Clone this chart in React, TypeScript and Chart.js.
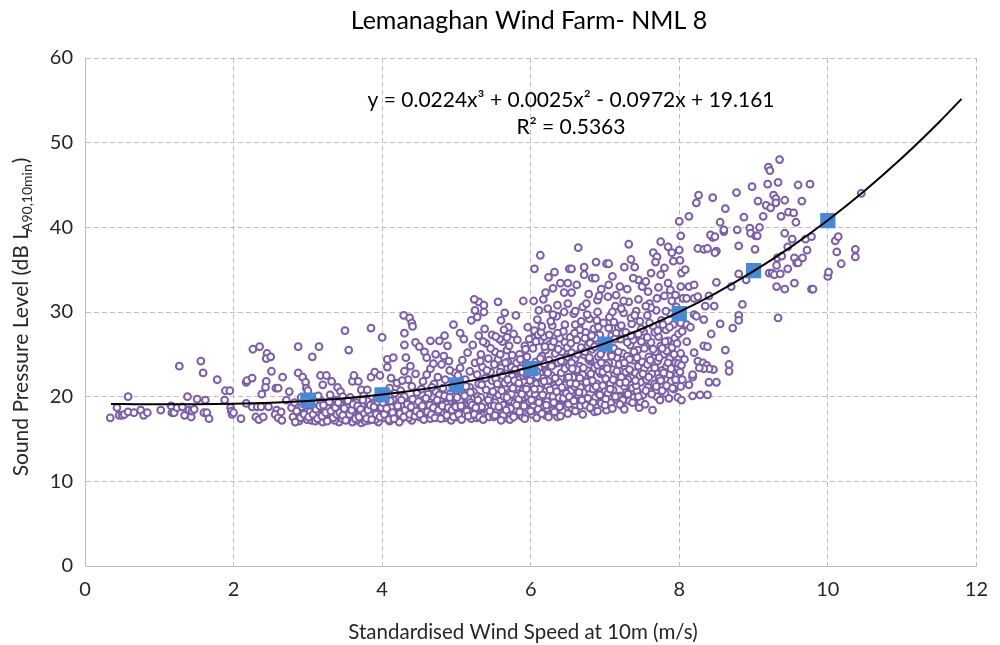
import React, { useEffect, useRef } from "react";
import { Chart, registerables } from "chart.js";

Chart.register(...registerables);

const chartTitle = "Lemanaghan Wind Farm- NML 8";
const xAxisTitle = "Standardised Wind Speed at 10m (m/s)";
const yAxisTitleMain = "Sound Pressure Level (dB L";
const yAxisTitleSub = "A90,10min";
const yAxisTitleEnd = ")";
const equationText = "y = 0.0224x³ + 0.0025x² - 0.0972x + 19.161";
const rSquaredText = "R² = 0.5363";

const xTickValues = [0, 2, 4, 6, 8, 10, 12];
const yTickValues = [0, 10, 20, 30, 40, 50, 60];

// Bin-averaged levels (blue squares)
const binSpeeds = [3, 4, 5, 6, 7, 8, 9, 10];
const binLevels = [19.6, 20.2, 21.4, 23.3, 26.2, 29.8, 34.9, 40.8];

// Trend line
const trendSpeeds = [0.35, 0.5, 1, 1.5, 2, 2.5, 3, 3.5, 4, 4.5, 5, 5.5, 6, 6.5, 7, 7.5, 8, 8.5, 9, 9.5, 10, 10.5, 11, 11.5, 11.8];
const trendLevels = [19.13, 19.12, 19.09, 19.1, 19.16, 19.28, 19.5, 19.81, 20.25, 20.82, 21.54, 22.43, 23.51, 24.79, 26.29, 28.02, 30.01, 32.27, 34.82, 37.67, 40.84, 44.35, 48.21, 52.44, 55.17];

// Measured 10-minute points [wind speed, level]
const lowWindPoints: number[][] = [
  [0.34,17.5],[0.43,18.7],[0.46,17.8],[0.5,17.8],[0.53,17.9],[0.58,20.0],[0.58,18.2],[0.66,18.1],[0.75,18.4],[0.79,17.8],[0.84,18.1],
  [1.02,18.4],[1.16,18.9],[1.17,18.1],[1.2,18.1],[1.24,18.7],[1.27,23.6],[1.31,18.8],[1.34,17.8],[1.38,20.0],[1.4,18.4],[1.43,17.6],
  [1.44,18.3],[1.47,18.5],[1.51,19.7],[1.56,24.2],[1.59,22.8],[1.6,18.1],[1.64,18.1],[1.62,19.6],[1.67,17.4],[1.78,22.0],[1.88,19.6],
  [1.89,20.7],[1.95,20.7],[1.96,18.7],[1.97,18.3],[1.98,17.9],[2.0,18.1],
  [2.1,17.4],[2.17,21.7],[2.18,21.9],[2.17,19.2],[2.25,22.2],[2.26,25.6],[2.35,25.9],[2.45,25.1],[2.44,24.5],[2.5,24.7],[2.51,23.0],
  [2.44,21.8],[2.43,21.1],[2.57,21.0],[2.6,21.0],[2.38,20.3],[2.66,22.3],[2.25,18.8],[2.32,18.8],[2.37,18.8],[2.47,18.8],[2.3,17.6],
  [2.34,17.3],[2.4,17.6],[2.58,18.4],[2.56,17.9],[2.6,17.5],[2.64,18.2],[2.65,17.2],[2.71,19.6],[2.75,20.6],[2.78,18.7],[2.87,25.9],
  [2.87,22.8],[2.93,22.3],[2.97,21.7],[2.98,21.0],[3.0,20.7],[2.8,17.6],[2.85,18.3],[2.88,17.1],[2.9,17.5],[2.95,17.9],[2.92,18.8],
  [2.82,19.3],[2.97,19.0],[2.83,17.0],[2.91,19.9],[2.99,17.3],
];

const midWindPoints: number[][] = [
  [3.06,24.7],[3.15,25.9],[3.05,17.2],[3.1,17.1],[3.15,17.3],[3.2,17.0],[3.25,17.4],[3.3,17.6],[3.12,18.1],[3.22,18.3],[3.28,18.6],
  [3.33,19.2],[3.35,18.0],[3.4,17.4],[3.42,17.0],[3.45,18.4],[3.48,19.0],[3.5,17.7],[3.38,19.6],[3.3,20.2],[3.17,22.5],[3.25,22.5],
  [3.2,21.4],[3.4,21.1],[3.44,20.6],[3.5,27.8],[3.08,18.7],[3.18,19.5],[3.36,17.2],[3.27,18.0],[3.03,18.2],[3.46,17.4],[3.14,20.1],
  [3.32,21.8],[3.47,20.0],
  [3.55,25.5],[3.52,18.9],[3.55,18.3],[3.58,17.5],[3.6,17.0],[3.63,18.6],[3.65,19.3],[3.68,17.8],[3.7,18.2],[3.72,16.9],[3.75,17.5],
  [3.78,18.8],[3.8,19.5],[3.82,17.2],[3.85,18.0],[3.88,17.6],[3.9,18.5],[3.93,19.8],[3.95,17.0],[3.98,18.3],[3.6,21.8],[3.68,21.8],
  [3.72,20.8],[3.8,20.8],[3.85,22.3],[3.9,22.9],[3.97,22.5],[3.85,28.1],[3.75,20.1],[3.62,22.5],[3.57,19.9],[3.66,17.2],[3.73,19.1],
  [3.87,19.2],[3.94,18.0],[3.77,17.1],[3.53,17.3],[3.83,17.9],[3.96,19.3],[3.91,17.3],
  [4.0,27.0],[4.02,17.5],[4.05,18.2],[4.08,19.0],[4.1,17.1],[4.12,18.7],[4.15,19.6],[4.18,17.6],[4.2,18.3],[4.22,19.2],[4.25,17.3],
  [4.28,18.9],[4.3,20.0],[4.32,17.8],[4.35,18.6],[4.38,19.4],[4.4,17.2],[4.42,18.1],[4.45,19.8],[4.48,18.5],[4.07,23.5],[4.07,24.4],
  [4.15,24.6],[4.32,24.6],[4.29,29.6],[4.37,29.3],[4.4,28.7],[4.41,28.3],[4.3,27.5],[4.3,26.1],[4.45,26.4],[4.5,25.9],[4.57,25.3],
  [4.1,21.0],[4.2,21.6],[4.25,20.7],[4.35,22.0],[4.4,21.2],[4.45,22.7],[4.12,22.2],[4.3,23.0],[4.47,20.5],[4.04,20.2],[4.17,20.4],
  [4.23,17.0],[4.36,17.5],[4.43,19.0],[4.27,21.9],[4.38,23.6],[4.19,18.0],
  [4.5,17.6],[4.52,18.6],[4.55,19.6],[4.58,17.9],[4.6,18.9],[4.62,20.3],[4.65,17.4],[4.68,18.4],[4.7,19.2],[4.72,20.6],[4.75,17.8],
  [4.78,18.8],[4.8,19.8],[4.82,21.0],[4.85,17.5],[4.88,18.3],[4.9,19.4],[4.92,20.4],[4.95,18.0],[4.98,19.0],[4.55,21.8],[4.6,22.6],
  [4.65,23.3],[4.7,21.5],[4.75,22.3],[4.8,23.8],[4.85,22.0],[4.9,24.2],[4.95,21.3],[4.98,22.8],[4.65,26.6],[4.77,26.6],[4.96,28.5],
  [4.6,24.6],[4.72,25.0],[4.88,26.0],[4.83,24.8],[4.67,21.1],[4.53,20.9],[4.63,19.4],[4.73,18.1],[4.86,19.1],[4.93,17.2],[4.57,18.2],
  [4.77,20.2],[4.97,20.0],[4.69,23.9],[4.84,27.2],[4.91,23.1],
  [5.0,17.6],[5.02,18.5],[5.05,19.5],[5.08,20.4],[5.1,17.9],[5.12,18.9],[5.15,19.8],[5.18,21.1],[5.2,17.4],[5.22,18.2],[5.25,19.1],
  [5.28,20.1],[5.3,21.5],[5.32,18.6],[5.35,17.8],[5.38,19.4],[5.4,20.8],[5.42,18.1],[5.45,19.9],[5.48,21.9],[5.02,22.5],[5.05,23.4],
  [5.08,24.3],[5.12,22.0],[5.15,25.2],[5.18,23.0],[5.22,26.1],[5.25,24.0],[5.28,22.6],[5.3,27.2],[5.33,25.0],[5.35,23.5],[5.38,28.0],
  [5.4,26.3],[5.43,24.5],[5.46,22.9],[5.2,29.0],[5.25,30.2],[5.28,29.4],[5.3,31.2],[5.24,31.5],[5.1,26.8],[5.05,27.5],[5.37,30.0],
  [5.37,30.8],[5.48,27.3],[5.04,20.9],[5.13,21.2],[5.23,20.6],[5.33,19.9],[5.44,17.6],[5.17,18.4],[5.27,17.5],[5.39,22.2],[5.47,19.0],
  [5.09,18.7],[5.19,19.3],[5.34,18.8],
  [5.5,17.6],[5.52,19.3],[5.53,22.1],[5.55,18.4],[5.56,24.4],[5.57,20.2],[5.58,21.0],[5.6,23.4],[5.61,18.0],[5.62,26.5],[5.63,19.0],
  [5.64,20.0],[5.65,21.6],[5.66,17.5],[5.67,22.7],[5.68,25.5],[5.7,18.7],[5.71,19.6],[5.72,20.5],[5.73,21.4],[5.74,23.5],[5.75,22.4],
  [5.76,18.2],[5.77,27.4],[5.78,19.2],[5.8,20.1],[5.81,24.0],[5.82,21.1],[5.83,22.0],[5.84,23.0],[5.85,25.0],[5.86,17.8],[5.87,18.8],
  [5.88,19.8],[5.9,20.8],[5.91,21.7],[5.92,26.0],[5.93,22.7],[5.94,23.7],[5.95,24.7],[5.96,28.2],[5.97,18.4],[5.98,19.4],[5.99,20.4],
  [5.56,31.2],[5.6,29.0],[5.7,28.2],[5.9,31.3],[5.8,29.6],[5.52,25.3],[5.58,26.8],[5.68,27.0],[5.65,29.9],[5.54,20.9],[5.63,17.8],
  [5.72,17.3],[5.79,18.5],[5.89,17.6],[5.59,22.9],[5.69,24.1],[5.78,21.9],[5.86,23.3],[5.95,21.2],[5.51,18.9],[5.84,19.7],[5.74,20.3],
];

const highWindPoints: number[][] = [
  [6.01,22.6],[6.02,17.9],[6.03,25.7],[6.04,19.0],[6.05,27.8],[6.06,20.3],[6.07,24.1],[6.08,21.5],[6.09,29.1],[6.1,18.5],[6.11,23.4],
  [6.12,19.8],[6.13,26.6],[6.14,21.0],[6.15,24.8],[6.16,22.2],[6.17,18.1],[6.18,27.1],[6.19,20.6],[6.2,25.5],[6.21,23.0],[6.22,19.4],
  [6.23,30.4],[6.24,21.9],[6.25,24.3],[6.26,26.2],[6.27,18.8],[6.28,22.5],[6.29,28.4],[6.3,20.0],[6.31,23.8],[6.32,21.3],[6.33,25.1],
  [6.34,19.2],[6.35,29.5],[6.36,17.6],[6.37,24.0],[6.38,21.7],[6.39,26.9],[6.4,20.4],[6.41,22.8],[6.42,25.3],[6.43,18.3],[6.44,27.7],
  [6.45,20.9],[6.46,23.3],[6.47,19.6],[6.48,24.6],[6.49,22.1],[6.5,31.0],[6.06,19.5],[6.12,20.9],[6.18,23.9],[6.22,18.6],[6.28,25.9],
  [6.33,21.0],[6.38,19.9],[6.44,24.1],[6.08,23.0],[6.15,21.6],[6.36,27.5],[6.27,28.9],[6.11,30.2],[6.46,26.4],[6.02,26.9],[6.4,18.9],
  [6.2,17.8],[6.31,19.3],[6.47,21.4],[6.1,27.3],[6.05,35.1],[6.13,36.7],[6.04,31.3],[6.24,34.1],[6.32,34.7],[6.2,32.3],[6.3,32.8],
  [6.4,33.4],[6.45,32.3],[6.17,31.5],[6.36,30.8],
  [6.51,19.1],[6.52,23.7],[6.53,27.0],[6.54,20.7],[6.55,25.2],[6.56,18.4],[6.57,22.3],[6.58,29.8],[6.59,21.2],[6.6,24.5],[6.61,19.8],
  [6.62,26.7],[6.63,22.9],[6.64,20.2],[6.65,28.3],[6.66,23.6],[6.67,18.9],[6.68,25.8],[6.69,21.8],[6.7,30.6],[6.71,20.5],[6.72,24.9],
  [6.73,22.4],[6.74,27.6],[6.75,19.4],[6.76,23.1],[6.77,26.0],[6.78,21.0],[6.79,29.2],[6.8,24.2],[6.81,18.6],[6.82,22.0],[6.83,25.6],
  [6.84,20.9],[6.85,28.0],[6.86,23.4],[6.87,19.9],[6.88,26.5],[6.89,21.5],[6.9,31.4],[6.91,24.7],[6.92,20.3],[6.93,27.3],[6.94,22.7],
  [6.95,19.2],[6.96,25.4],[6.97,21.3],[6.98,28.7],[6.99,23.9],[7.0,20.6],[6.53,21.6],[6.57,19.6],[6.62,23.2],[6.66,27.9],[6.7,22.6],
  [6.74,19.0],[6.78,24.4],[6.83,21.9],[6.87,26.9],[6.92,23.0],[6.96,20.0],[6.6,30.1],[6.76,29.7],[6.89,29.0],[6.55,24.0],[6.8,26.3],
  [6.94,25.0],[6.67,21.1],[6.73,25.3],[6.86,18.2],[6.64,37.6],[6.52,35.1],[6.55,35.1],[6.88,35.9],[6.72,34.4],[6.72,35.3],[6.83,34.0],
  [6.87,34.0],[6.55,32.3],[6.95,32.7],[6.62,33.2],[6.78,32.1],[6.5,33.4],[6.92,31.9],
  [7.01,22.1],[7.02,18.4],[7.03,26.3],[7.04,20.4],[7.05,24.0],[7.06,29.4],[7.07,21.5],[7.08,19.3],[7.09,27.2],[7.1,23.2],[7.11,20.8],
  [7.12,25.7],[7.13,22.6],[7.14,30.7],[7.15,19.7],[7.16,24.6],[7.17,21.8],[7.18,28.1],[7.19,23.8],[7.2,20.1],[7.21,26.8],[7.22,22.3],
  [7.23,18.9],[7.24,25.1],[7.25,29.9],[7.26,21.2],[7.27,23.5],[7.28,27.6],[7.29,20.5],[7.3,24.8],[7.31,22.0],[7.32,31.2],[7.33,19.5],
  [7.34,26.1],[7.35,23.0],[7.36,28.6],[7.37,21.0],[7.38,24.3],[7.39,19.9],[7.4,27.0],[7.41,22.8],[7.42,30.1],[7.43,20.7],[7.44,25.5],
  [7.45,23.6],[7.46,18.7],[7.47,28.9],[7.48,21.7],[7.49,26.5],[7.5,24.1],[7.04,31.8],[7.12,28.8],[7.22,30.4],[7.35,29.3],[7.45,31.5],
  [7.08,25.0],[7.18,20.0],[7.28,22.9],[7.38,26.7],[7.48,19.4],[7.15,27.5],[7.33,24.4],[7.02,23.7],[7.26,18.5],[7.42,21.3],[7.02,35.7],
  [7.05,35.7],[7.26,35.3],[7.32,38.0],[7.35,36.2],[7.4,35.3],[7.05,33.2],[7.1,34.2],[7.2,33.0],[7.3,32.7],[7.45,33.8],[7.15,32.0],
  [7.38,34.0],
  [7.51,20.2],[7.52,27.7],[7.53,23.3],[7.54,19.1],[7.55,25.9],[7.56,22.0],[7.57,29.6],[7.58,21.1],[7.59,24.7],[7.6,31.0],[7.61,20.6],
  [7.62,26.4],[7.63,22.7],[7.64,18.4],[7.65,28.3],[7.66,23.9],[7.67,21.5],[7.68,25.3],[7.69,30.2],[7.7,20.0],[7.71,24.2],[7.72,27.1],
  [7.73,22.2],[7.74,19.6],[7.75,26.0],[7.76,29.0],[7.77,23.1],[7.78,21.3],[7.79,25.0],[7.8,31.9],[7.81,20.4],[7.82,27.9],[7.83,23.6],
  [7.84,22.0],[7.85,26.6],[7.86,19.8],[7.87,24.5],[7.88,29.8],[7.89,21.8],[7.9,25.8],[7.91,23.0],[7.92,28.5],[7.93,20.9],[7.94,26.9],
  [7.95,24.0],[7.96,30.6],[7.97,22.5],[7.98,19.9],[7.99,27.4],[7.57,23.8],[7.67,27.6],[7.77,20.7],[7.87,22.6],[7.62,30.5],[7.83,25.4],
  [7.65,37.0],[7.75,38.3],[7.7,36.5],[7.85,37.7],[7.9,37.0],[7.92,36.0],[7.68,35.9],[7.5,33.0],[7.55,33.6],[7.62,34.6],[7.75,34.4],
  [7.85,33.4],[7.88,32.6],[7.9,31.3],[7.58,32.4],[7.72,32.9],[7.8,35.2],
];

// Extra readings in the densest part of the cloud
const denseCorePoints: number[][] = [
  [3.01,17.6],[3.04,19.1],[3.07,17.9],[3.11,18.5],[3.13,17.4],[3.16,18.9],[3.19,17.7],[3.21,19.0],[3.24,18.1],[3.26,17.1],[3.29,19.4],
  [3.31,18.3],[3.34,17.5],[3.37,18.7],[3.39,17.9],[3.41,19.3],[3.43,18.1],[3.47,17.8],[3.49,18.6],[3.51,17.2],[3.54,19.5],[3.56,17.9],
  [3.59,18.4],[3.61,19.1],[3.64,17.4],[3.67,18.9],[3.69,17.6],[3.71,18.5],[3.74,19.6],[3.76,18.0],[3.79,17.4],[3.81,18.4],[3.84,19.0],
  [3.86,17.3],[3.89,18.8],[3.92,17.9],[3.94,19.4],[3.97,17.6],[3.99,18.7],[4.01,19.3],[4.03,17.9],[4.06,18.6],[4.09,17.3],[4.11,19.5],
  [4.14,18.1],[4.16,17.4],[4.21,18.9],[4.24,18.0],[4.26,19.6],[4.29,17.6],[4.31,18.4],[4.34,19.1],[4.37,17.9],[4.39,18.8],[4.41,19.7],
  [4.44,17.7],[4.46,18.3],[4.49,19.4],[4.51,17.9],[4.54,18.9],[4.56,17.3],[4.59,19.8],[4.61,18.2],[4.64,19.0],[4.66,17.9],[4.69,18.7],
  [4.71,17.5],[4.74,19.6],[4.76,18.4],[4.79,17.4],[4.81,18.9],[4.84,20.1],[4.87,17.8],[4.89,18.7],[4.91,19.9],[4.94,18.4],[4.96,17.6],
  [4.99,18.8],[5.01,19.9],[5.03,17.9],[5.06,18.9],[5.07,17.3],[5.11,20.1],[5.14,18.3],[5.16,17.7],[5.19,20.5],[5.21,19.0],[5.24,17.9],
  [5.26,18.7],[5.29,19.6],[5.31,17.6],
  [5.32,24.2],[5.34,21.4],[5.36,26.5],[5.41,23.1],[5.43,19.6],[5.46,25.7],[5.49,20.6],[5.51,23.8],[5.53,27.1],[5.55,21.5],[5.57,18.8],
  [5.59,25.0],[5.61,20.7],[5.62,22.5],[5.64,27.9],[5.66,24.0],[5.68,19.9],[5.69,22.0],[5.71,26.0],[5.73,18.6],[5.75,24.9],[5.76,21.0],
  [5.79,23.2],[5.81,19.0],[5.82,26.7],[5.84,21.6],[5.86,24.4],[5.88,20.3],[5.89,22.9],[5.91,18.9],[5.93,25.6],[5.94,20.9],[5.96,23.2],
  [5.98,26.8],[5.99,21.9],
  [6.01,19.6],[6.03,23.0],[6.05,20.9],[6.07,26.5],[6.09,22.4],[6.11,19.3],[6.13,24.5],[6.14,27.6],[6.16,20.2],[6.18,21.8],[6.19,25.9],
  [6.21,19.0],[6.23,22.8],[6.25,27.3],[6.26,20.8],[6.28,23.6],[6.3,18.4],[6.31,26.5],[6.33,22.2],[6.35,20.6],[6.37,25.6],[6.39,18.8],
  [6.41,24.2],[6.42,21.1],[6.44,19.8],[6.46,28.5],[6.48,20.4],[6.49,25.8],
  [6.51,22.3],[6.52,20.0],[6.54,26.3],[6.56,23.3],[6.58,19.5],[6.59,27.5],[6.61,21.5],[6.63,25.0],[6.65,20.5],[6.66,22.2],[6.68,28.9],
  [6.69,19.6],[6.71,23.4],[6.73,26.9],[6.75,21.7],[6.77,19.8],[6.79,24.6],[6.81,22.7],[6.82,27.2],[6.84,19.3],[6.86,25.9],[6.88,21.2],
  [6.9,23.7],[6.91,28.2],[6.93,20.2],[6.95,24.0],[6.97,22.9],[6.99,26.2],
  [7.01,19.7],[7.03,23.3],[7.05,28.1],[7.07,20.9],[7.09,24.8],[7.11,22.0],[7.13,26.8],[7.14,20.0],[7.16,23.0],[7.18,25.3],[7.2,21.6],
  [7.22,28.4],[7.24,19.6],[7.26,24.0],[7.28,21.7],[7.3,26.4],[7.31,20.3],[7.33,23.2],[7.35,27.2],[7.37,19.3],[7.39,25.3],[7.41,21.9],
  [7.43,24.6],[7.45,20.0],[7.47,22.5],[7.49,28.0],
  [7.51,22.7],[7.53,25.7],[7.55,20.7],[7.57,27.0],[7.59,22.3],[7.61,24.3],[7.63,20.3],[7.65,25.6],[7.67,23.4],[7.69,21.2],[7.71,27.8],
  [7.73,24.6],[7.75,21.9],[7.77,25.7],[7.79,22.8],[7.81,26.5],[7.83,21.3],[7.85,24.0],[7.87,28.2],[7.89,23.3],[7.91,21.0],[7.93,25.0],
  [7.95,22.0],[7.97,26.3],[7.99,23.9],
  [5.36,17.3],[5.45,18.3],[5.52,17.8],[5.6,17.2],[5.67,18.4],[5.77,17.6],[5.85,18.2],[5.92,17.4],[6.0,18.3],[6.08,17.5],[6.15,18.0],
  [6.24,17.6],[6.32,18.2],[6.4,17.7],[6.5,18.0],[6.6,18.3],[6.7,17.9],[6.8,18.7],[6.9,18.3],[7.0,19.0],[7.1,18.6],[7.2,19.1],
  [7.1,30.0],[7.25,31.3],[7.4,29.6],[7.55,30.7],[7.7,31.6],[7.82,30.1],[7.95,32.0],[7.6,28.7],[7.78,28.5],[7.45,27.4],[6.9,30.0],
  [6.75,31.0],[6.6,28.5],[6.45,30.0],[6.3,29.7],[6.15,28.3],
];

const topWindPoints: number[][] = [
  [8.0,40.7],[8.02,39.0],[8.0,37.3],[8.01,36.1],[8.03,34.6],[8.02,33.0],[8.05,31.6],[8.02,28.7],[8.04,27.7],[8.02,25.1],[8.03,23.7],
  [8.01,22.9],[8.04,22.0],[8.02,21.2],[8.03,19.6],[8.23,42.9],[8.26,43.8],[8.45,43.5],[8.13,41.3],[8.45,38.8],[8.42,39.1],[8.48,38.9],
  [8.25,37.5],[8.33,37.4],[8.38,37.5],[8.5,37.2],[8.48,37.0],[8.13,33.0],[8.2,33.2],[8.1,31.6],[8.2,31.6],[8.25,31.8],[8.4,31.9],
  [8.5,33.5],[8.35,30.7],[8.47,30.7],[8.2,29.7],[8.23,29.5],[8.33,29.1],[8.1,28.5],[8.15,28.2],[8.43,27.4],[8.33,26.0],[8.38,25.9],
  [8.2,25.2],[8.25,24.2],[8.32,24.0],[8.37,23.7],[8.46,23.2],[8.4,23.3],[8.33,23.3],[8.27,23.4],[8.18,22.3],[8.18,22.6],[8.4,21.7],
  [8.5,21.7],[8.13,21.4],[8.18,20.1],[8.28,20.2],[8.38,20.2],[8.08,35.0],[8.1,26.5],[8.07,24.4],
  [8.77,44.1],[8.62,42.2],[8.87,41.2],[8.55,40.6],[8.6,39.5],[8.6,39.7],[8.78,39.7],[8.95,39.9],[8.96,39.3],[8.8,37.8],[8.7,33.0],
  [8.85,30.9],[8.8,29.6],[8.8,29.0],[8.55,28.6],[8.72,28.1],[8.62,25.5],[8.67,23.8],[8.67,23.0],[8.98,44.8],[8.9,33.8],[8.8,34.5],
  [9.35,48.0],[9.2,47.1],[9.22,46.7],[9.19,45.1],[9.33,45.3],[9.6,45.0],[9.76,45.1],[9.06,43.1],[9.17,42.6],[9.23,42.3],[9.27,43.8],
  [9.3,43.4],[9.3,42.9],[9.42,43.2],[9.65,43.1],[9.47,41.8],[9.54,41.7],[9.37,41.3],[9.57,40.6],[9.13,41.3],[9.03,39.0],[9.05,39.0],
  [9.08,40.0],[9.02,37.4],[9.42,39.3],[9.52,38.6],[9.7,38.6],[9.78,38.9],[9.72,37.3],[9.46,37.7],[9.32,36.4],[9.38,36.6],[9.55,36.4],
  [9.58,35.8],[9.6,35.8],[9.66,36.4],[9.31,35.5],[9.46,35.1],[9.21,34.6],[9.25,34.6],[9.28,34.4],[9.36,34.5],[9.31,33.0],[9.42,32.7],
  [9.55,33.4],[9.78,32.7],[9.8,32.7],[9.33,29.3],
  [10.0,34.2],[10.01,34.7],[10.1,38.4],[10.14,38.9],[10.12,37.1],[10.18,35.7],[10.37,37.4],[10.37,36.5],[10.45,44.0],
];

const FONT = "Lato";
const TEXT_DARK = "#262626";

const annotationPlugin = {
  id: "textAnnotations",
  afterDraw(chart: any) {
    const { ctx } = chart;
    ctx.save();
    ctx.textAlign = "center";
    ctx.textBaseline = "middle";

    // chart title
    ctx.fillStyle = "#000000";
    ctx.font = `25px ${FONT}`;
    ctx.fillText(chartTitle, 529, 21);

    // trend equation
    ctx.font = `21px ${FONT}`;
    ctx.fillText(equationText, 571, 100);
    ctx.fillText(rSquaredText, 571, 127);

    // x-axis title
    ctx.fillStyle = TEXT_DARK;
    ctx.font = `20.5px ${FONT}`;
    ctx.fillText(xAxisTitle, 523, 632);
    ctx.restore();

    // y-axis title with subscript
    ctx.save();
    ctx.translate(20, 317);
    ctx.rotate(-Math.PI / 2);
    ctx.fillStyle = TEXT_DARK;
    ctx.textBaseline = "alphabetic";
    ctx.textAlign = "left";
    const mainFont = `21px ${FONT}`;
    const subFont = `14px ${FONT}`;
    ctx.font = mainFont;
    const w1 = ctx.measureText(yAxisTitleMain).width;
    const w3 = ctx.measureText(yAxisTitleEnd).width;
    ctx.font = subFont;
    const w2 = ctx.measureText(yAxisTitleSub).width;
    const total = w1 + w2 + w3 - 2;
    let x = -total / 2;
    const base = 8;
    ctx.font = mainFont;
    ctx.fillText(yAxisTitleMain, x, base);
    x += w1 - 3;
    ctx.font = subFont;
    ctx.fillText(yAxisTitleSub, x, base + 4);
    x += w2 + 1;
    ctx.font = mainFont;
    ctx.fillText(yAxisTitleEnd, x, base);
    ctx.restore();
  },
};

export default function App() {
  const canvasRef = useRef<HTMLCanvasElement | null>(null);

  useEffect(() => {
    const canvas = canvasRef.current;
    if (!canvas) return;
    const allPoints = [...lowWindPoints, ...midWindPoints, ...highWindPoints, ...denseCorePoints, ...topWindPoints].map(([x, y]) => ({ x, y }));
    const binData = binSpeeds.map((x, i) => ({ x, y: binLevels[i] }));
    const trendData = trendSpeeds.map((x, i) => ({ x, y: trendLevels[i] }));

    const chart = new Chart(canvas, {
      type: "scatter",
      data: {
        datasets: [
          {
            label: "Trend",
            type: "line",
            data: trendData,
            borderColor: "#000000",
            borderWidth: 2,
            pointRadius: 0,
            fill: false,
            cubicInterpolationMode: "monotone",
            order: 0,
          } as any,
          {
            label: "Bin average",
            data: binData,
            pointStyle: "rect",
            pointRadius: 10.8,
            backgroundColor: "#4A88D3",
            borderColor: "#4A88D3",
            borderWidth: 0,
            order: 1,
          },
          {
            label: "Measured",
            data: allPoints,
            pointStyle: "circle",
            pointRadius: 3.4,
            borderWidth: 2,
            borderColor: "#7C5EA6",
            backgroundColor: "#FFFFFF",
            order: 2,
          },
        ],
      },
      options: {
        responsive: false,
        animation: false,
        layout: { padding: { left: 8, right: 17, top: 58, bottom: 0 } },
        plugins: {
          legend: { display: false },
          tooltip: { enabled: false },
          title: { display: false },
        },
        scales: {
          x: {
            type: "linear",
            min: 0,
            max: 12,
            afterBuildTicks: (scale: any) => {
              scale.ticks = xTickValues.map((v) => ({ value: v }));
            },
            afterFit: (scale: any) => {
              scale.height = 79;
            },
            ticks: { color: TEXT_DARK, font: { family: FONT, size: 20 }, padding: 12 },
            grid: { color: "#C0C0C0", lineWidth: 1, drawTicks: false },
            border: { display: true, color: "#BFBFBF", width: 1, dash: [5, 3] },
            title: { display: false },
          },
          y: {
            type: "linear",
            min: 0,
            max: 60,
            afterBuildTicks: (scale: any) => {
              scale.ticks = yTickValues.map((v) => ({ value: v }));
            },
            afterFit: (scale: any) => {
              scale.width = 77;
            },
            ticks: { color: TEXT_DARK, font: { family: FONT, size: 20 }, padding: 12 },
            grid: { color: "#C0C0C0", lineWidth: 1, drawTicks: false },
            border: { display: true, color: "#BFBFBF", width: 1, dash: [5, 3] },
            title: { display: false },
          },
        },
      },
      plugins: [annotationPlugin],
    });
    return () => chart.destroy();
  }, []);

  return (
    <div style={{ position: "fixed", left: 0, top: 0, width: 1000, height: 645, background: "#FFFFFF" }}>
      <canvas ref={canvasRef} width={1000} height={645} style={{ display: "block" }} />
    </div>
  );
}
